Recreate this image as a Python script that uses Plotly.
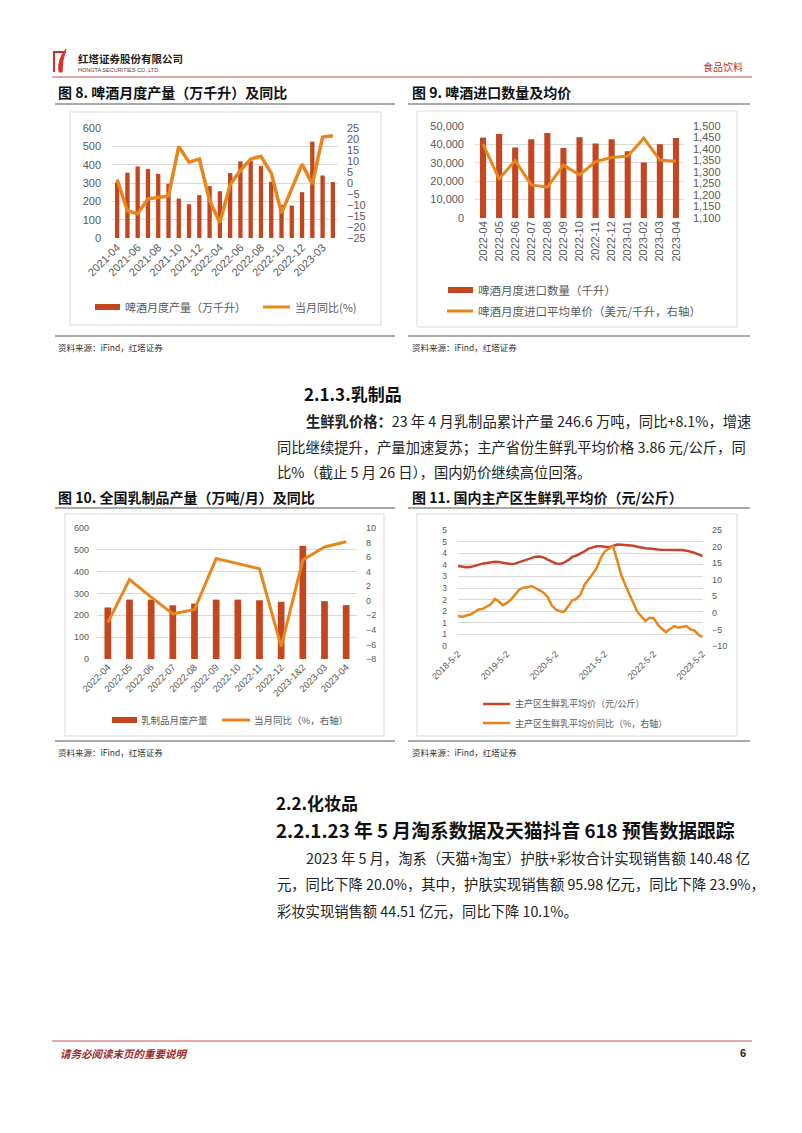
import plotly.graph_objects as go

# ---------------- data ----------------
beer_months = ["2021-04", "2021-05", "2021-06", "2021-07", "2021-08", "2021-09", "2021-10",
               "2021-11", "2021-12", "2022-03", "2022-04", "2022-05", "2022-06", "2022-07",
               "2022-08", "2022-09", "2022-10", "2022-11", "2022-12", "2023-02", "2023-03", "2023-04"]
beer_output = [303, 356, 390, 376, 350, 296, 215, 184, 234, 283, 255, 354, 418, 421,
               392, 307, 181, 177, 250, 526, 341, 305]
beer_yoy = [1.6, -12.7, -14.0, -7.2, -6.6, -5.9, 16.6, 9.5, 10.9, -8.0, -17.9, -0.8, 5.7, 10.9,
            12.1, 4.5, -13.7, -2.8, 8.6, -0.5, 20.9, 21.5]

imp_months = ["2022-04", "2022-05", "2022-06", "2022-07", "2022-08", "2022-09", "2022-10",
              "2022-11", "2022-12", "2023-01", "2023-02", "2023-03", "2023-04"]
imp_volume = [43700, 45700, 38300, 42800, 46200, 38100, 43900, 40500, 42800, 36300, 30200, 40100, 43500]
imp_price = [1421, 1270, 1349, 1244, 1234, 1330, 1287, 1345, 1363, 1369, 1447, 1352, 1347]

dairy_months = ["2022-04", "2022-05", "2022-06", "2022-07", "2022-08", "2022-09", "2022-10",
                "2022-11", "2022-12", "2023-1&2", "2023-03", "2023-04"]
dairy_output = [236, 272, 272, 246, 254, 272, 272, 269, 262, 518, 265, 247]
dairy_yoy = [-3.0, 2.9, 0.5, -1.8, -1.2, 5.8, 5.1, 4.4, -6.3, 5.6, 7.4, 8.1]

milk_dates = ["%d-%02d-02" % (2018 + (4 + i) // 12, (4 + i) % 12 + 1) for i in range(61)]
milk_price = [3.45, 3.42, 3.39, 3.40, 3.46, 3.50, 3.55, 3.58, 3.61, 3.63, 3.62, 3.59,
              3.55, 3.53, 3.55, 3.61, 3.67, 3.72, 3.76, 3.85, 3.86, 3.81, 3.72, 3.63,
              3.56, 3.54, 3.59, 3.70, 3.84, 3.90, 3.98, 4.08, 4.20, 4.27, 4.30, 4.30,
              4.29, 4.26, 4.31, 4.37, 4.36, 4.35, 4.33, 4.32, 4.28, 4.24, 4.21, 4.20,
              4.17, 4.16, 4.15, 4.15, 4.15, 4.16, 4.15, 4.14, 4.11, 4.07, 4.02, 3.95, 3.87]
milk_yoy = [-0.9, -1.2, -0.8, -0.5, 0.2, 1.0, 1.2, 1.8, 2.6, 4.2, 3.5, 2.3,
            3.0, 4.0, 5.5, 7.0, 7.6, 7.7, 8.1, 7.5, 6.8, 6.0, 4.8, 2.2,
            1.0, 0.5, 0.3, 2.0, 3.8, 4.2, 5.5, 8.5, 10.0, 11.8, 13.5, 16.5,
            18.5, 19.3, 20.2, 16.0, 11.5, 8.5, 5.5, 3.0, 0.2, -1.2, -2.5, -1.5,
            -1.6, -3.5, -4.8, -5.8, -5.0, -4.0, -4.5, -4.2, -4.0, -5.0, -5.3, -6.6, -7.3]
milk_tick_dates = ["2018-05-02", "2019-05-02", "2020-05-02", "2021-05-02", "2022-05-02", "2023-05-02"]
milk_tick_text = ["2018-5-2", "2019-5-2", "2020-5-2", "2021-5-2", "2022-5-2", "2023-5-2"]
milk_left_ticks = [0, 0.5, 1, 1.5, 2, 2.5, 3, 3.5, 4, 4.5, 5]
milk_left_text = ["0", "1", "1", "2", "2", "3", "3", "4", "4", "5", "5"]

# ---------------- helpers ----------------
W, H = 802, 1133
def X(p): return p / W
def Y(p): return 1 - p / H

BAR = "#C4461F"
LINE = "#E8861C"
RED2 = "#C7432A"
GRID = "#D9D9D9"
TICK = "#595959"
NUM = "Liberation Sans, Arial, Noto Sans CJK SC, sans-serif"
CJK = "Noto Sans CJK SC, Liberation Sans, sans-serif"

fig = go.Figure()

# chart 8
fig.add_trace(go.Bar(x=beer_months, y=beer_output, xaxis="x", yaxis="y",
                     marker=dict(color=BAR, line=dict(width=0)), width=0.42, showlegend=False))
fig.add_trace(go.Scatter(x=beer_months, y=beer_yoy, xaxis="x", yaxis="y2", mode="lines",
                         line=dict(color=LINE, width=3.5), showlegend=False))
# chart 9
fig.add_trace(go.Bar(x=imp_months, y=imp_volume, xaxis="x2", yaxis="y3",
                     marker=dict(color=BAR, line=dict(width=0)), width=0.38, showlegend=False))
fig.add_trace(go.Scatter(x=imp_months, y=imp_price, xaxis="x2", yaxis="y4", mode="lines",
                         line=dict(color=LINE, width=3), showlegend=False))
# chart 10
fig.add_trace(go.Bar(x=dairy_months, y=dairy_output, xaxis="x3", yaxis="y5",
                     marker=dict(color=BAR, line=dict(width=0)), width=0.31, showlegend=False))
fig.add_trace(go.Scatter(x=dairy_months, y=dairy_yoy, xaxis="x3", yaxis="y6", mode="lines",
                         line=dict(color=LINE, width=3), showlegend=False))
# chart 11
fig.add_trace(go.Scatter(x=milk_dates, y=milk_price, xaxis="x4", yaxis="y7", mode="lines",
                         line=dict(color=RED2, width=2.5), showlegend=False))
fig.add_trace(go.Scatter(x=milk_dates, y=milk_yoy, xaxis="x4", yaxis="y8", mode="lines",
                         line=dict(color=LINE, width=2.5), showlegend=False))

def xax(domain, anchor, size, angle, **kw):
    d = dict(domain=domain, anchor=anchor, showgrid=False, zeroline=False, showline=False,
             ticks="", tickangle=angle, tickfont=dict(family=NUM, size=size, color=TICK),
             fixedrange=True, automargin=False)
    d.update(kw)
    return d

def yax(domain, anchor, rng, size, grid=True, **kw):
    d = dict(domain=domain, anchor=anchor, range=rng, showgrid=grid, gridcolor=GRID, gridwidth=1,
             zeroline=False, showline=False, ticks="", automargin=False,
             tickfont=dict(family=NUM, size=size, color=TICK), fixedrange=True)
    d.update(kw)
    return d

layout = dict(
    width=W, height=H, autosize=False,
    margin=dict(l=0, r=0, t=0, b=0, pad=0, autoexpand=False),
    paper_bgcolor="white", plot_bgcolor="rgba(0,0,0,0)",
    showlegend=False,
    xaxis=xax([X(112), X(338)], "y", 11, -45, type="category", range=[-0.5, 21.5],
              tickvals=beer_months[::2], ticktext=beer_months[::2]),
    yaxis=yax([Y(238), Y(128)], "x", [0, 600], 11, dtick=100, ticklabelstandoff=10),
    yaxis2=yax(None, "x", [-25, 25], 11, grid=False, overlaying="y", side="right", dtick=5,
               ticklabelstandoff=8),
    xaxis2=xax([X(475), X(684)], "y3", 11, -90, type="category", range=[-0.5, 12.5],
               tickvals=imp_months, ticktext=imp_months),
    yaxis3=yax([Y(218), Y(126)], "x2", [0, 50000], 11, dtick=10000, tickformat=",d",
               ticklabelstandoff=10),
    yaxis4=yax(None, "x2", [1100, 1500], 11, grid=False, overlaying="y3", side="right",
               dtick=50, tickformat=",d", ticklabelstandoff=8),
    xaxis3=xax([X(97), X(357)], "y5", 9.5, -45, type="category", range=[-0.5, 11.5],
               tickvals=dairy_months, ticktext=dairy_months),
    yaxis5=yax([Y(659), Y(528)], "x3", [0, 600], 9, dtick=100, ticklabelstandoff=7),
    yaxis6=yax(None, "x3", [-8, 10], 9, grid=False, overlaying="y5", side="right", dtick=2,
               ticklabelstandoff=8),
    xaxis4=xax([X(458), X(703)], "y7", 9, -45, type="date", range=["2018-05-02", "2023-05-06"],
               tickvals=milk_tick_dates, ticktext=milk_tick_text),
    yaxis7=yax([Y(646), Y(530)], "x4", [0, 5], 8.5, tickvals=milk_left_ticks,
               ticktext=milk_left_text, ticklabelstandoff=10),
    yaxis8=yax(None, "x4", [-10, 25], 9, grid=False, overlaying="y7", side="right", dtick=5,
               ticklabelstandoff=8),
)
for k in ["yaxis2", "yaxis4", "yaxis6", "yaxis8"]:
    layout[k].pop("domain")
fig.update_layout(**layout)

shapes = []
annos = []

def rect(x0, y0, x1, y1, fill=None, line=None, lw=1, layer="below"):
    shapes.append(dict(type="rect", xref="paper", yref="paper", x0=X(x0), x1=X(x1), y0=Y(y1), y1=Y(y0),
                       fillcolor=fill or "rgba(0,0,0,0)",
                       line=dict(color=line or "rgba(0,0,0,0)", width=lw if line else 0), layer=layer))

def hline(x0, x1, y, color, w=1):
    shapes.append(dict(type="line", xref="paper", yref="paper", x0=X(x0), x1=X(x1), y0=Y(y), y1=Y(y),
                       line=dict(color=color, width=w), layer="above"))

def text(x, y, s, size, color="#222222", family=CJK, xanchor="left"):
    annos.append(dict(xref="paper", yref="paper", x=X(x), y=Y(y), text=s, showarrow=False,
                      xanchor=xanchor, yanchor="middle", align="left",
                      font=dict(family=family, size=size, color=color)))

# header
shapes.append(dict(type="path", xref="paper", yref="paper",
                   path="M %f %f L %f %f L %f %f" % (X(66), Y(52), X(54), Y(52), X(54), Y(72)),
                   line=dict(color="#C8302A", width=2)))
shapes.append(dict(type="path", xref="paper", yref="paper",
                   path="M %f %f Q %f %f %f %f Q %f %f %f %f Z" % (
                       X(59), Y(72), X(57), Y(60), X(66), Y(49), X(62), Y(60), X(62), Y(72)),
                   fillcolor="#D8332A", line=dict(color="#D8332A", width=1)))
text(76, 58, "<b>红塔证券股份有限公司</b>", 10.5, "#222222")
text(76, 70, "HONGTA SECURITIES CO.,LTD.", 5.5, "#444444", NUM)
text(745, 67, "食品饮料", 10, "#C0392B", CJK, xanchor="right")
hline(52, 752, 77, "#C0504D", 1.2)

# titles for row 1
text(56, 92, "<b>图 8. 啤酒月度产量（万千升）及同比</b>", 14, "#111111")
text(410, 92, "<b>图 9. 啤酒进口数量及均价</b>", 14, "#111111")
hline(55, 395, 104, "#8C8C8C", 1.5)
hline(408, 750, 104, "#8C8C8C", 1.5)

# chart boxes row 1
rect(70, 112, 381, 325, line="#D9D9D9")
rect(417, 111, 737, 327, line="#D9D9D9")

# legends chart 8
rect(95, 304, 120, 310, fill=BAR, layer="above")
text(123, 307, "啤酒月度产量（万千升）", 11, TICK)
hline(263, 290, 307, LINE, 3)
text(293, 307, "当月同比(%)", 11, TICK)
# legends chart 9
rect(448, 287, 473, 293, fill=BAR, layer="above")
text(476, 290, "啤酒月度进口数量（千升）", 11.5, TICK)
hline(447, 473, 311, LINE, 3)
text(476, 311, "啤酒月度进口平均单价（美元/千升，右轴）", 11.5, TICK)

hline(55, 395, 336, "#8C8C8C", 1.5)
hline(408, 750, 336, "#8C8C8C", 1.5)
text(56, 347, "资料来源：iFind，红塔证券", 8.5, "#333333")
text(410, 347, "资料来源：iFind，红塔证券", 8.5, "#333333")

# section 2.1.3
text(302, 393, "<b>2.1.3.乳制品</b>", 17, "#111111")
text(304, 420, "<b>生鲜乳价格：</b>23 年 4 月乳制品累计产量 246.6 万吨，同比+8.1%，增速", 14.3, "#222222")
text(275, 446, "同比继续提升，产量加速复苏；主产省份生鲜乳平均价格 3.86 元/公斤，同", 14.3, "#222222")
text(275, 471, "比%（截止 5 月 26 日），国内奶价继续高位回落。", 14.3, "#222222")

# titles row 2
text(56, 497, "<b>图 10. 全国乳制品产量（万吨/月）及同比</b>", 14, "#111111")
text(410, 497, "<b>图 11. 国内主产区生鲜乳平均价（元/公斤）</b>", 14, "#111111")
hline(55, 395, 508, "#8C8C8C", 1.5)
hline(408, 750, 508, "#8C8C8C", 1.5)

rect(65, 514, 384, 736, line="#D9D9D9")
rect(417, 514, 737, 736, line="#D9D9D9")

# legend chart 10
rect(112, 717, 137, 723, fill=BAR, layer="above")
text(139, 720, "乳制品月度产量", 9.5, TICK)
hline(222, 250, 720, LINE, 3)
text(252, 720, "当月同比（%，右轴）", 9.5, TICK)
# legend chart 11
hline(483, 510, 704, RED2, 2.5)
text(513, 704, "主产区生鲜乳平均价（元/公斤）", 9, TICK)
hline(483, 510, 723, LINE, 2.5)
text(513, 723, "主产区生鲜乳平均价同比（%，右轴）", 9, TICK)

hline(55, 395, 741, "#8C8C8C", 1.5)
hline(408, 750, 741, "#8C8C8C", 1.5)
text(56, 752, "资料来源：iFind，红塔证券", 8.5, "#333333")
text(410, 752, "资料来源：iFind，红塔证券", 8.5, "#333333")

# section 2.2
text(274, 802, "<b>2.2.化妆品</b>", 17, "#111111")
text(274, 829, "<b>2.2.1.23 年 5 月淘系数据及天猫抖音 618 预售数据跟踪</b>", 18.8, "#111111")
text(304, 857, "2023 年 5 月，淘系（天猫+淘宝）护肤+彩妆合计实现销售额 140.48 亿", 14.3, "#222222")
text(275, 884, "元，同比下降 20.0%，其中，护肤实现销售额 95.98 亿元，同比下降 23.9%，", 14.3, "#222222")
text(275, 910, "彩妆实现销售额 44.51 亿元，同比下降 10.1%。", 14.3, "#222222")

# footer
hline(52, 752, 1041, "#C0504D", 1)
text(58, 1053, "<b><i>请务必阅读末页的重要说明</i></b>", 10.5, "#9B2D2D")
text(748, 1053, "<b>6</b>", 11, "#222222", NUM, xanchor="right")

fig.update_layout(shapes=shapes, annotations=annos)
fig.write_html("out.html")
